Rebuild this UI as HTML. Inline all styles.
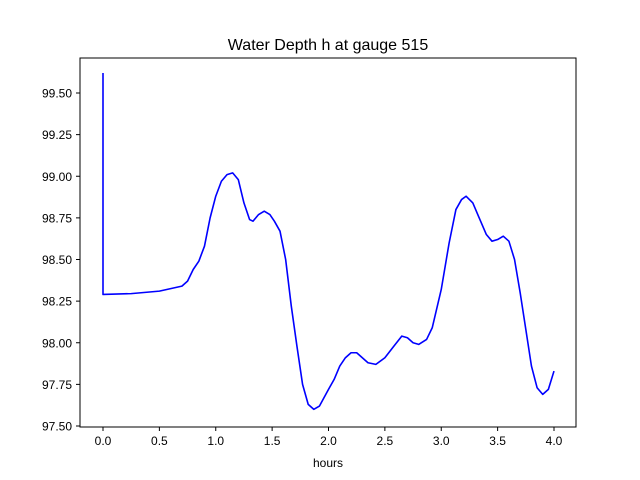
<!DOCTYPE html>
<html><head><meta charset="utf-8"><style>
body{margin:0;background:#fff;}
svg{display:block;font-family:"Liberation Sans","DejaVu Sans",sans-serif;}
</style></head><body>
<svg id="chart" width="640" height="480">
<rect width="640" height="480" fill="#fff"/>
<text x="328" y="50" font-size="16" text-anchor="middle">Water Depth h at gauge 515</text>
<g id="plot"></g>
<rect x="80" y="58" width="496" height="369" fill="none" stroke="#000" stroke-width="1"/>
<text x="328" y="467" font-size="12" text-anchor="middle">hours</text>
</svg>
<script>
const hours=[0,0,0.25,0.5,0.7,0.75,0.8,0.85,0.9,0.95,1.0,1.05,1.1,1.15,1.2,1.25,1.3,1.33,1.38,1.43,1.48,1.52,1.57,1.62,1.67,1.72,1.77,1.82,1.87,1.92,2.0,2.05,2.1,2.15,2.2,2.25,2.3,2.35,2.42,2.5,2.58,2.65,2.7,2.75,2.8,2.87,2.92,3.0,3.07,3.13,3.18,3.22,3.28,3.33,3.4,3.45,3.5,3.55,3.6,3.65,3.7,3.75,3.8,3.85,3.9,3.95,4.0];
const depth=[99.62,98.29,98.295,98.31,98.34,98.37,98.44,98.49,98.58,98.75,98.88,98.97,99.01,99.02,98.98,98.84,98.74,98.73,98.77,98.79,98.77,98.73,98.67,98.5,98.22,97.98,97.75,97.63,97.6,97.62,97.72,97.78,97.86,97.91,97.94,97.94,97.91,97.88,97.87,97.91,97.98,98.04,98.03,98.0,97.99,98.02,98.09,98.32,98.6,98.8,98.86,98.88,98.84,98.76,98.65,98.61,98.62,98.64,98.61,98.5,98.3,98.08,97.86,97.73,97.69,97.72,97.83];
const xTicks=[0,0.5,1,1.5,2,2.5,3,3.5,4];
const xLabels=["0.0","0.5","1.0","1.5","2.0","2.5","3.0","3.5","4.0"];
const yTicks=[97.5,97.75,98,98.25,98.5,98.75,99,99.25,99.5];
const yLabels=["97.50","97.75","98.00","98.25","98.50","98.75","99.00","99.25","99.50"];
const X=t=>103+t*112.75;
const Y=v=>426-(v-97.5)*166.5;
const NS="http://www.w3.org/2000/svg";
const g=document.getElementById('plot');
xTicks.forEach((t,i)=>{
 const l=document.createElementNS(NS,'line');
 l.setAttribute('x1',X(t));l.setAttribute('x2',X(t));l.setAttribute('y1',427);l.setAttribute('y2',431);l.setAttribute('stroke','#000');
 
 
 g.appendChild(l);
 const tx=document.createElementNS(NS,'text');
 tx.setAttribute('x',X(t));tx.setAttribute('y',445);tx.setAttribute('font-size','12');tx.setAttribute('text-anchor','middle');
 tx.textContent=xLabels[i];
 
 
 g.appendChild(tx);
});
yTicks.forEach((v,i)=>{
 const l=document.createElementNS(NS,'line');
 l.setAttribute('x1',76);l.setAttribute('x2',80);l.setAttribute('y1',Y(v));l.setAttribute('y2',Y(v));l.setAttribute('stroke','#000');
 
 
 g.appendChild(l);
 const tx=document.createElementNS(NS,'text');
 tx.setAttribute('x',72);tx.setAttribute('y',Y(v)+4.5);tx.setAttribute('font-size','12');tx.setAttribute('text-anchor','end');
 tx.textContent=yLabels[i];
 
 
 g.appendChild(tx);
});
const p=document.createElementNS(NS,'polyline');
p.setAttribute('points',hours.map((t,i)=>X(t)+','+Y(depth[i])).join(' '));
p.setAttribute('fill','none');p.setAttribute('stroke','#0000ff');p.setAttribute('stroke-width','1.6');p.setAttribute('stroke-linejoin','round');


g.appendChild(p);
</script>
</body></html>
